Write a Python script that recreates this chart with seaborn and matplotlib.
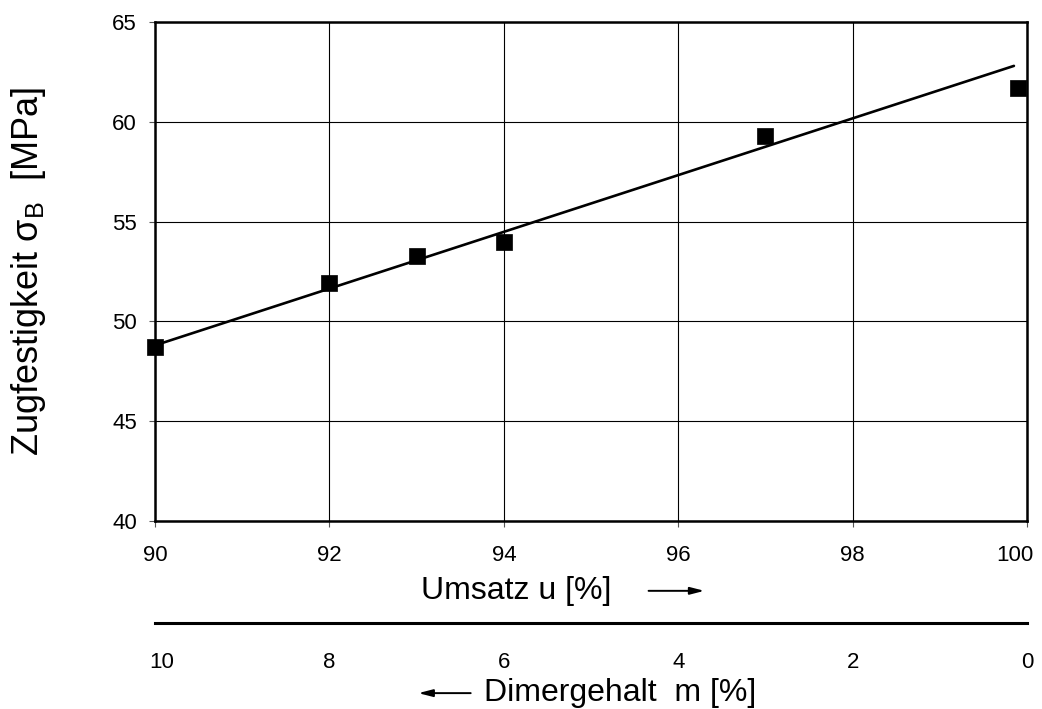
import matplotlib
matplotlib.use("Agg")
import matplotlib.pyplot as plt
import matplotlib.transforms as mtransforms
import seaborn as sns
import pandas as pd

# Measured tensile strength vs. conversion
umsatz = [90.0, 92.0, 93.0, 94.0, 97.0, 99.9]
festigkeit = [48.7, 51.9, 53.3, 54.0, 59.3, 61.7]

# Trend line end points
fit_u = [90.0, 99.85]
fit_sigma = [48.8, 62.8]

x_ticks = [90, 92, 94, 96, 98, 100]
y_ticks = [40, 45, 50, 55, 60, 65]
dimer_ticks = [10, 8, 6, 4, 2, 0]

sns.set_theme(style="white")
plt.rcParams["font.family"] = ["Liberation Sans", "DejaVu Sans"]
plt.rcParams["mathtext.fontset"] = "custom"
plt.rcParams["mathtext.rm"] = "Liberation Sans"
plt.rcParams["mathtext.it"] = "Liberation Sans"
plt.rcParams["text.color"] = "black"
plt.rcParams["axes.labelcolor"] = "black"
plt.rcParams["xtick.color"] = "black"
plt.rcParams["ytick.color"] = "black"

TICK_FS = 16
LABEL_FS = 23
YLABEL_FS = 26

fig = plt.figure(figsize=(10.42, 7.09), dpi=100)
ax = fig.add_axes([0.1488, 0.2652, 0.8368, 0.7038])

data = pd.DataFrame({"u": umsatz, "sigma": festigkeit})
fit = pd.DataFrame({"u": fit_u, "sigma": fit_sigma})

sns.lineplot(data=fit, x="u", y="sigma", ax=ax, color="black", linewidth=1.9, zorder=3)
sns.scatterplot(data=data, x="u", y="sigma", ax=ax, marker="s", s=120,
                color="black", edgecolor="black", linewidth=0.5, zorder=4,
                clip_on=False)

ax.set_xlim(90, 100)
ax.set_ylim(40, 65)
ax.set_xticks(x_ticks)
ax.set_yticks(y_ticks)
ax.set_xticklabels([str(t) for t in x_ticks], fontsize=TICK_FS, color="black")
ax.set_yticklabels([str(t) for t in y_ticks], fontsize=TICK_FS, color="black")

ax.grid(True, color="black", linewidth=0.8)
ax.set_axisbelow(True)
for side in ["left", "right", "top", "bottom"]:
    ax.spines[side].set_visible(True)
    ax.spines[side].set_color("black")
    ax.spines[side].set_linewidth(1.8)

ax.tick_params(axis="both", which="major", direction="out", length=4, width=0.8,
               color="#555555")
ax.tick_params(axis="x", pad=13, bottom=True)
ax.tick_params(axis="y", pad=9, left=True)

# Keep the outermost scale labels inside the figure
last_x = ax.get_xticklabels()[-1]
last_x.set_transform(last_x.get_transform()
                     + mtransforms.ScaledTranslation(-12 / 100, 0, fig.dpi_scale_trans))

# Axis titles
ax.set_xlabel("Umsatz u [%]", fontsize=LABEL_FS, va="center", color="black")
ax.xaxis.set_label_coords(0.414, -0.140)
ax.set_ylabel(r"Zugfestigkeit σ$_\mathrm{B}$  [MPa]", fontsize=YLABEL_FS, va="center",
              color="black")
ax.yaxis.set_label_coords(-0.1456, 0.5)

ax.annotate("", xy=(0.630, -0.140), xytext=(0.566, -0.140), xycoords="axes fraction",
            annotation_clip=False,
            arrowprops=dict(arrowstyle="-|>,head_length=0.7,head_width=0.18",
                            color="black", lw=1.4, shrinkA=0, shrinkB=0))

# Second scale: dimer content m = 100 - u
sec = ax.secondary_xaxis(-0.2044, functions=(lambda x: 100 - x, lambda m: 100 - m))
sec.set_xticks(dimer_ticks)
sec.set_xticklabels([str(t) for t in dimer_ticks], fontsize=TICK_FS, color="black")
sec.spines["bottom"].set_color("black")
sec.spines["bottom"].set_linewidth(2.2)
sec.tick_params(axis="x", length=0, pad=21)
first_m = sec.get_xticklabels()[0]
first_m.set_transform(first_m.get_transform()
                      + mtransforms.ScaledTranslation(7 / 100, 0, fig.dpi_scale_trans))

ax.text(0.533, -0.345, "Dimergehalt  m [%]", transform=ax.transAxes, fontsize=LABEL_FS,
        ha="center", va="center", color="black")
ax.annotate("", xy=(0.302, -0.345), xytext=(0.362, -0.345), xycoords="axes fraction",
            annotation_clip=False,
            arrowprops=dict(arrowstyle="-|>,head_length=0.7,head_width=0.18",
                            color="black", lw=1.4, shrinkA=0, shrinkB=0))

fig.savefig("out.png", dpi=100, facecolor="white")
